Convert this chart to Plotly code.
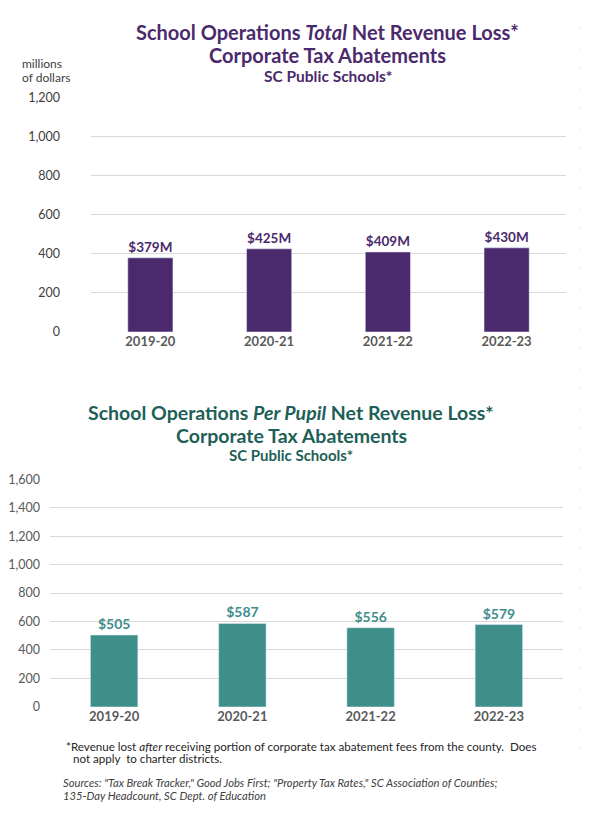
import plotly.graph_objects as go

years = ["2019-20", "2020-21", "2021-22", "2022-23"]
total_loss_millions = [379, 425, 409, 430]
per_pupil_loss = [505, 587, 556, 579]
top_ticks = [0, 200, 400, 600, 800, 1000, 1200]
bottom_ticks = [0, 200, 400, 600, 800, 1000, 1200, 1400, 1600]

PURPLE = "#4A2A6C"
TEAL = "#3E8E8A"
TEAL_DARK = "#1E5F57"
FONT = "Lato"

W, H = 605, 817
def px(x): return x / W
def py(y): return 1 - y / H

fig = go.Figure()
fig.add_trace(go.Bar(
    x=years, y=total_loss_millions, marker_color=PURPLE, width=0.38,
    text=[f"${v}M" for v in total_loss_millions], textposition="outside",
    textfont=dict(color=PURPLE, size=13.5, family=FONT, weight="bold"),
    cliponaxis=False, xaxis="x", yaxis="y", hoverinfo="skip"))
fig.add_trace(go.Bar(
    x=years, y=per_pupil_loss, marker_color=TEAL, width=0.37,
    text=[f"${v}" for v in per_pupil_loss], textposition="outside",
    textfont=dict(color=TEAL, size=14, family=FONT, weight="bold"),
    cliponaxis=False, xaxis="x2", yaxis="y2", hoverinfo="skip"))

axis_common = dict(showline=False, zeroline=False)
fig.update_layout(
    width=W, height=H, margin=dict(l=0, r=0, t=0, b=0),
    paper_bgcolor="white", plot_bgcolor="white", showlegend=False,
    font=dict(family=FONT, color="#404040"),
    xaxis=dict(domain=[px(91), px(566)], range=[-0.5, 3.5], showgrid=False,
               tickfont=dict(size=13, color="#595959", weight="bold"), anchor="y", **axis_common),
    yaxis=dict(domain=[py(330), py(91)], range=[0, 1200], tickvals=top_ticks, tickformat=",",
               gridcolor="#D9D9D9", gridwidth=1.3, tickfont=dict(size=12.5, color="#404040"),
               ticklabelstandoff=30, anchor="x", **axis_common),
    xaxis2=dict(domain=[px(50), px(563)], range=[-0.5, 3.5], showgrid=False,
                tickfont=dict(size=13, color="#595959", weight="bold"), anchor="y2", **axis_common),
    yaxis2=dict(domain=[py(712), py(480)], range=[0, 1600], tickvals=bottom_ticks, tickformat=",",
                gridcolor="#D9D9D9", gridwidth=1.3, tickfont=dict(size=12.5, color="#595959"),
                ticklabelstandoff=9, anchor="x2", **axis_common),
)

def ann(text, x, y, size, color, xanchor="center", **kw):
    fig.add_annotation(text=text, x=px(x), y=py(y), xref="paper", yref="paper",
                       showarrow=False, xanchor=xanchor, yanchor="middle",
                       font=dict(size=size, color=color, family=FONT, **kw))

ann("<b>School Operations <i>Total</i> Net Revenue Loss*</b>", 328, 24, 20, PURPLE)
ann("<b>Corporate Tax Abatements</b>", 328, 48, 20, PURPLE)
ann("<b>SC Public Schools*</b>", 328, 69, 15.5, PURPLE)
ann("millions", 20, 57, 12, "#404040", xanchor="left")
ann("of dollars", 20, 71, 12, "#404040", xanchor="left")

ann("<b>School Operations <i>Per Pupil</i> Net Revenue Loss*</b>", 291, 412, 19.5, TEAL_DARK)
ann("<b>Corporate Tax Abatements</b>", 291, 435, 19.5, TEAL_DARK)
ann("<b>SC Public Schools*</b>", 291, 455, 15, TEAL_DARK)

ann("*Revenue lost <i>after</i> receiving portion of corporate tax abatement fees from the county.  Does",
    64, 752, 11.6, "#262626", xanchor="left")
ann("not apply  to charter districts.", 71, 765, 11.6, "#262626", xanchor="left")
ann("<i>Sources: \"Tax Break Tracker,\" Good Jobs First; \"Property Tax Rates,\" SC Association of Counties;</i>",
    61, 789, 11.2, "#404040", xanchor="left")
ann("<i>135-Day Headcount, SC Dept. of Education</i>", 61, 802, 11.2, "#404040", xanchor="left")

fig.add_shape(type="line", xref="paper", yref="paper", x0=px(580), x1=px(580),
              y0=py(20), y1=py(760), line=dict(color="#CFCFCF", width=1, dash="1px,19px"))

fig.write_html("out.html", config={"displayModeBar": False},
               post_script="document.body.style.margin='0';")
